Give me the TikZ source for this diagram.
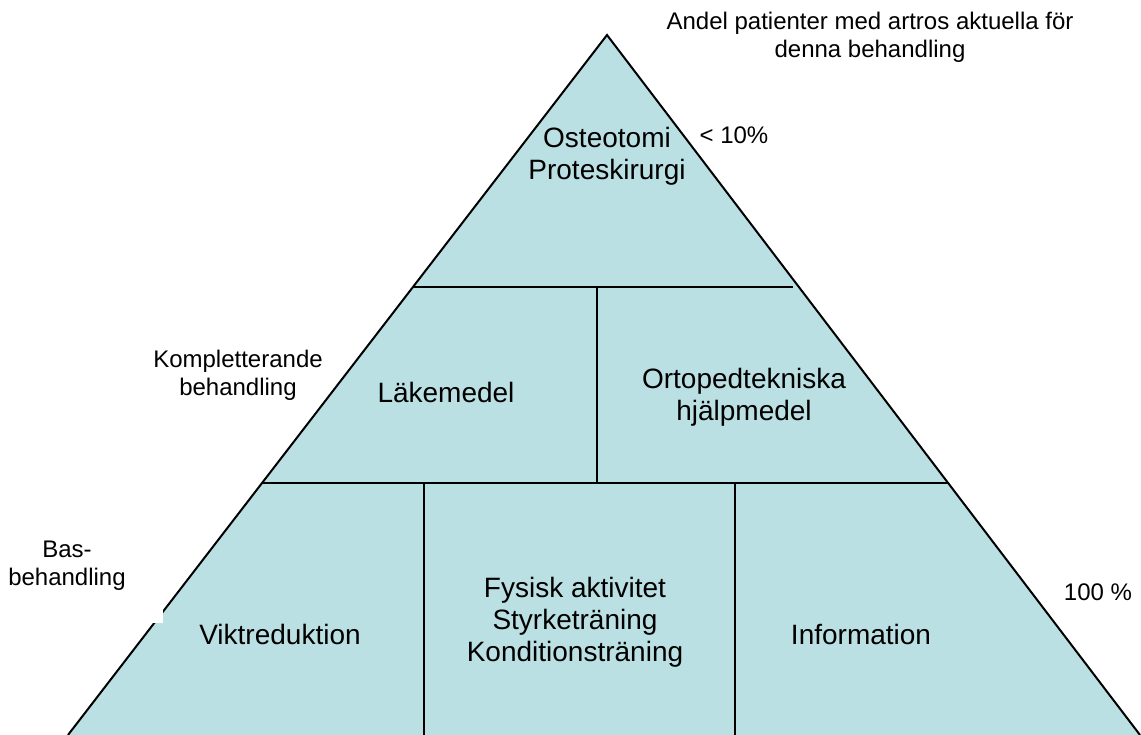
\documentclass[tikz,border=0pt]{standalone}
\usepackage{fontspec}
\setmainfont{Liberation Sans}
\definecolor{pyr}{RGB}{187,224,227}
\begin{document}
\begin{tikzpicture}[x=1pt,y=-1pt,
  edge/.style={black,line width=2pt},
  mainlbl/.style={align=center,font=\fontsize{28}{32}\selectfont,inner sep=0pt},
  sidelbl/.style={align=center,font=\fontsize{24}{28}\selectfont,inner sep=0pt}]
\useasboundingbox (0,0) rectangle (1141,735);
\clip (0,0) rectangle (1141,735);
% corners
\coordinate (apex) at (607,35);
\coordinate (bl) at (68,735);
\coordinate (br) at (1140,735);
\fill[pyr] (apex) -- (bl) -- (br) -- cycle;
\draw[edge,line join=miter] (bl) -- (apex) -- (br);
% dividers
\coordinate (h1l) at (413,287);
\coordinate (h1r) at (793,287);
\coordinate (h2l) at (262,483);
\coordinate (h2r) at (948,483);
\draw[edge] (h1l) -- (h1r);
\draw[edge] (h2l) -- (h2r);
\coordinate (v1t) at (597,287);
\coordinate (v1b) at (597,483);
\draw[edge] (v1t) -- (v1b);
\coordinate (v2t) at (424,483);
\coordinate (v2b) at (424,735);
\coordinate (v3t) at (735,483);
\coordinate (v3b) at (735,735);
\draw[edge] (v2t) -- (v2b);
\draw[edge] (v3t) -- (v3b);
% white notch of the label box
\fill[white] (135,598) rectangle (163,623);
% labels
\node[sidelbl] (andel) at (870,37) {Andel patienter med artros aktuella för\\denna behandling};
\node[mainlbl] (osteo) at (607,156) {Osteotomi\\Proteskirurgi};
\node[sidelbl] (lt10) at (734,135) {< 10\%};
\node[sidelbl] (kompl) at (238,375) {Kompletterande\\behandling};
\node[mainlbl] (lake) at (446,392) {Läkemedel};
\node[mainlbl] (orto) at (744,397) {Ortopedtekniska\\hjälpmedel};
\node[sidelbl] (bas) at (67,566) {Bas-\\behandling};
\node[mainlbl] (vikt) at (280,634) {Viktreduktion};
\node[mainlbl] (fys) at (575,622) {Fysisk aktivitet\\Styrketräning\\Konditionsträning};
\node[mainlbl] (info) at (861,634) {Information};
\node[sidelbl] (hundred) at (1098,592) {100 \%};
\end{tikzpicture}
\end{document}
